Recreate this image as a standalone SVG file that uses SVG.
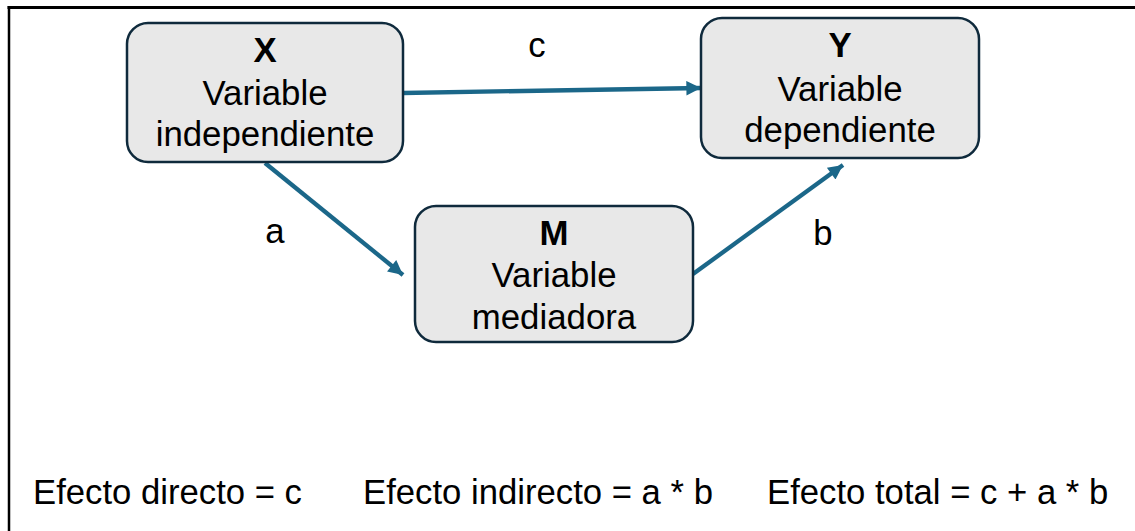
<svg xmlns="http://www.w3.org/2000/svg" width="1135" height="531" viewBox="0 0 1135 531">
  <style>
    .box { fill: #e8e8e8; stroke: #0f2a3c; stroke-width: 2.5; }
    .t { font-family: "Liberation Sans", Arial, sans-serif; font-size: 34.8px; fill: #000; text-anchor: middle; }
    .b { font-weight: bold; }
    .lbl { font-family: "Liberation Sans", Arial, sans-serif; font-size: 34.7px; fill: #000; text-anchor: middle; }
    .note { font-family: "Liberation Sans", Arial, sans-serif; font-size: 34.7px; fill: #000; }
    .edge { stroke: #1b6789; stroke-width: 4.3; fill: none; marker-end: url(#head); }
  </style>
  <defs>
    <marker id="head" viewBox="0 0 10 10" refX="10" refY="5" markerWidth="3.8" markerHeight="3.4" orient="auto" markerUnits="strokeWidth">
      <path d="M0,0 L10,5 L0,10 z" fill="#1b6789"/>
    </marker>
  </defs>
  <rect width="1135" height="531" fill="#fff"/>

  <!-- outer frame: top and left rules -->
  <g id="frame" stroke="#000" fill="none">
    <line x1="7.5" y1="7.5" x2="1135" y2="7.5" stroke-width="3"/>
    <line x1="9" y1="6" x2="9" y2="531" stroke-width="2.5"/>
  </g>

  <!-- connectors -->
  <g id="connectors">
    <line class="edge" x1="403" y1="93" x2="701" y2="88"/>
    <line class="edge" x1="265" y1="163" x2="403" y2="275"/>
    <line class="edge" x1="693" y1="274" x2="843" y2="165"/>
  </g>

  <g id="node-x">
    <rect class="box" x="127" y="23" width="276" height="139" rx="21"/>
    <text class="t b" x="265" y="62">X</text>
    <text class="t" x="265" y="105">Variable</text>
    <text class="t" x="265" y="146">independiente</text>
  </g>

  <g id="node-y">
    <rect class="box" x="701" y="18" width="278" height="140" rx="21"/>
    <text class="t b" x="840" y="57">Y</text>
    <text class="t" x="840" y="101">Variable</text>
    <text class="t" x="840" y="142">dependiente</text>
  </g>

  <g id="node-m">
    <rect class="box" x="415" y="206" width="278" height="136" rx="21"/>
    <text class="t b" x="554" y="245">M</text>
    <text class="t" x="554" y="287">Variable</text>
    <text class="t" x="554" y="329">mediadora</text>
  </g>

  <!-- path labels -->
  <g id="labels">
    <text class="lbl" x="537" y="57">c</text>
    <text class="lbl" x="275" y="243">a</text>
    <text class="lbl" x="823" y="245">b</text>
  </g>

  <!-- effect summary -->
  <g id="summary">
    <text class="note" x="33" y="504">Efecto directo = c</text>
    <text class="note" x="363" y="504">Efecto indirecto = a * b</text>
    <text class="note" x="767" y="504">Efecto total = c + a * b</text>
  </g>
</svg>
